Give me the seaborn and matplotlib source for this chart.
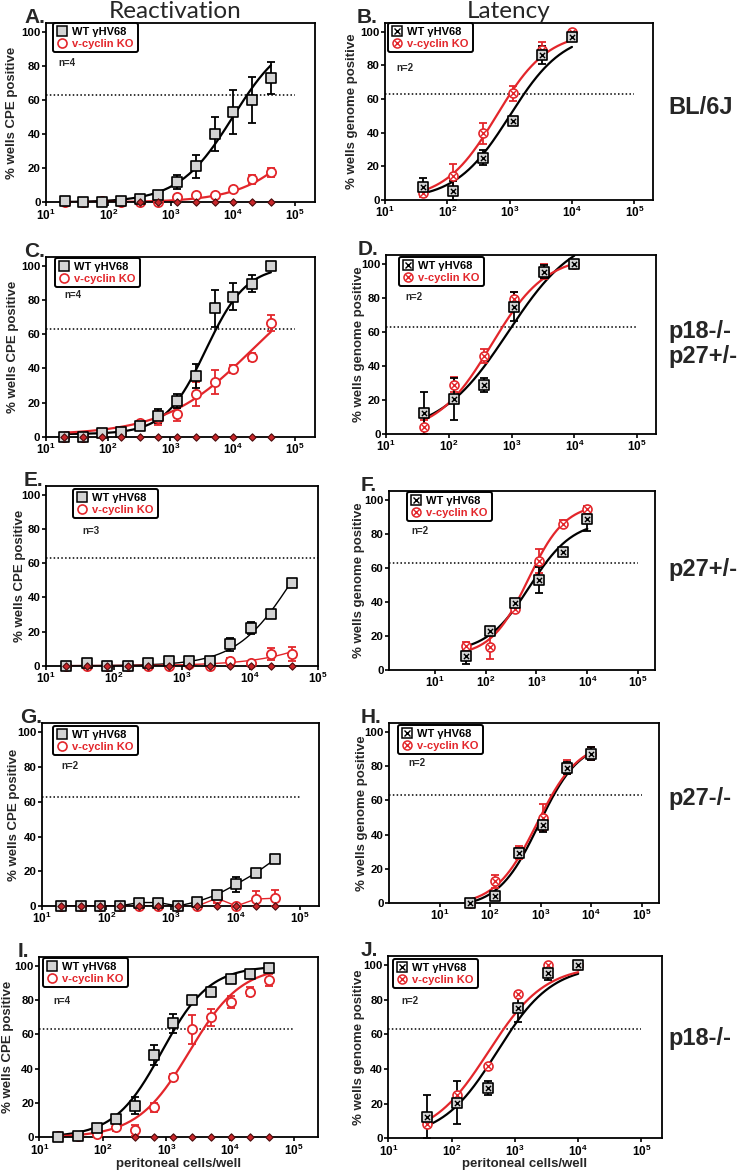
import numpy as np
import pandas as pd
import matplotlib
matplotlib.use("Agg")
import matplotlib.pyplot as plt
import seaborn as sns
from matplotlib.lines import Line2D
from matplotlib.legend_handler import HandlerTuple
from matplotlib.ticker import FixedLocator, NullLocator

# ---------------- data ----------------
react_cells = [20, 40, 80, 160, 320, 640, 1280, 2560, 5120, 10240, 20480, 40960]
lat_cells = [41, 123, 370, 1111, 3333, 10000]

# A. Reactivation BL/6J
a_wt = [1, 0, 0, 1, 2, 4, 12, 21, 40, 53, 60, 73]
a_wt_err = [1, 0.5, 0.5, 0.5, 1, 1.5, 4, 7, 10, 13, 13.5, 9.5]
a_ko = [0, 0, 1, 0, 0, 0, 3, 4, 4, 8, 13.5, 17.5]
a_ko_err = [0, 0, 0.5, 0, 0, 0, 1, 1, 1, 1, 2.5, 2.5]
# B. Latency BL/6J
b_wt = [8, 5.5, 25, 47, 86, 97]
b_wt_err = [5, 5.5, 4.5, 2, 5.5, 1.5]
b_ko = [4, 14.5, 39.5, 63.5, 89, 99.5]
b_ko_err = [2, 7, 6.5, 4.5, 5, 0.5]
# C. Reactivation p18-/- p27+/-
c_wt = [0, 0, 2, 3, 6, 12, 21, 35.5, 75, 82, 89.5, 100]
c_wt_err = [0, 0, 0.5, 1, 1, 4, 4, 7, 11, 8, 5, 0]
c_ko = [0, 0, 2, 3, 8, 11, 13, 25, 32, 39.5, 46.5, 66.5]
c_ko_err = [0, 0, 0.5, 0.5, 1, 4, 4, 7, 7, 2.5, 2.5, 4.5]
# D. Latency p18-/- p27+/-
d_wt = [12.5, 20.5, 29, 75, 95.5, 100]
d_wt_err = [12.5, 12.5, 4, 8.5, 4, 0]
d_ko = [4, 29, 46, 79.5, 95.5, 100]
d_ko_err = [4, 4.5, 4, 4, 4.5, 0]
# E. Reactivation p27+/-
e_wt = [0, 1.5, 0, 0, 1.5, 2.5, 3, 2.5, 12.5, 22, 30.5, 48.5]
e_wt_err = [0, 0.5, 0, 0, 0.5, 0.5, 0.5, 0.5, 4, 3.5, 2, 1]
e_ko = [0, 0, 0, 0, 0, 0, 1, 0, 2.5, 1.5, 7, 7]
e_ko_err = [0, 0, 0, 0, 0, 0, 0.5, 0, 2, 0.5, 3.5, 4]
# F. Latency p27+/-
f_wt = [8, 23, 39.5, 53, 69.5, 88.5]
f_wt_err = [4.5, 2.5, 1.5, 7.5, 1, 7]
f_ko = [14, 13.5, 36, 64, 86, 94.5]
f_ko_err = [2.5, 7, 2, 7, 2, 2]
# G. Reactivation p27-/-
g_wt = [0, 0, 0, 0, 2, 2, 0, 2.5, 6.5, 12.5, 19, 27]
g_wt_err = [0, 0, 0, 0, 0.5, 0.5, 0, 0.5, 1.5, 4.5, 1, 1]
g_ko = [0, 0, 0, 0, 0, 0, 0, 0, 4.5, 0, 4, 4.5]
g_ko_err = [0, 0, 0, 0, 0, 0, 0, 0, 3, 0, 4.5, 4.5]
# H. Latency p27-/-
h_wt = [0, 4, 29, 45.5, 79, 87.5]
h_wt_err = [0, 1, 3, 4, 3.5, 4]
h_ko = [0, 12.5, 29.5, 50, 79.5, 87.5]
h_ko_err = [0, 4, 4, 8, 4, 4]
# I. Reactivation p18-/-
i_wt = [0, 1, 5.5, 10.5, 18.5, 48, 66.5, 80, 85, 92.5, 95.5, 99]
i_wt_err = [0, 0.5, 1, 1.5, 5, 6, 5.5, 1, 1, 1.5, 1, 0.5]
i_ko = [1, 1, 2, 6, 4, 17.5, 35, 63, 70, 79, 85, 91.5]
i_ko_err = [0.5, 0.5, 0.5, 2.5, 3, 2.5, 2, 8.5, 5, 3.5, 2.5, 3.5]
# J. Latency p18-/-
j_wt = [12.5, 20.5, 29, 75, 95.5, 100]
j_wt_err = [12.5, 12.5, 4, 8, 4, 0]
j_ko = [8, 25, 41.5, 83.5, 100, 100]
j_ko_err = [0, 0, 0, 1, 0, 0]

# fitted dose-response curves (bottom, top, EC50, hill) as drawn in the figure
fit_a = [(0, 100, 1.0e4, 1.0), (0, 100, 2.8e5, 0.8)]
fit_b = [(0, 100, 1000, 1.0), (0, 100, 614, 1.05)]
fit_c = [(1.5, 100, 3700, 1.33), (1.0, 100, 2.0e4, 0.62)]
fit_d = [(0, 120, 883, 0.8), (0, 105, 477, 1.0)]
fit_e = [(0, 100, 4.2e4, 1.05), (0, 100, 1.07e6, 0.74)]
fit_f = [(10, 88, 733, 1.02), (8, 98, 683, 1.18)]
fit_h = [(-3, 95, 928, 1.08), (-2, 95, 850, 1.05)]
fit_i = [(0, 100, 848, 1.16), (0, 100, 2300, 1.06)]
fit_j = [(0, 100, 523, 1.0), (0, 100, 382, 0.97)]

# uninfected control wells (all 0%)
neg_a = react_cells[4:]
neg_c = react_cells
neg_e = react_cells
neg_g = react_cells
neg_i = react_cells[4:]

threshold = 63
n_labels = ["n=4", "n=2", "n=4", "n=2", "n=3", "n=2", "n=2", "n=2", "n=4", "n=2"]
strains = ["BL/6J", "p18-/-\np27+/-", "p27+/-", "p27-/-", "p18-/-"]

# ---------------- style ----------------
sns.set_theme(style="ticks")
plt.rcParams["font.family"] = ["Liberation Sans", "DejaVu Sans"]
plt.rcParams["mathtext.fontset"] = "custom"
plt.rcParams["mathtext.bf"] = "Liberation Sans:bold"
plt.rcParams["mathtext.rm"] = "Liberation Sans:bold"

RED = "#e3262b"
GREY = "#d4d4d4"
W, H = 739, 1173

fig = plt.figure(figsize=(W / 100, H / 100), dpi=100)


def px_axes(l, t, r, b):
    return fig.add_axes([l / W, 1 - b / H, (r - l) / W, (b - t) / H])


def fig_text(x, y, s, **kw):
    fig.text(x / W, 1 - y / H, s, **kw)


def sigmoid(x, p):
    bottom, top, ec50, hill = p
    return bottom + (top - bottom) / (1 + (ec50 / x) ** hill)


def draw_panel(ax, box, xlo, xhi, cells, wt, wt_err, ko, ko_err, latency,
               fits, neg, letter, n_txt, leg_px, n_px, ylab_x,
               thin=False, connect=False):
    l, t, r, b = box
    ax.set_xscale("log")
    lw = 1.0 if thin else 1.6
    # curves
    for vals, fit, col in [(wt, fits[0] if fits else None, "black"),
                           (ko, fits[1] if fits else None, RED)]:
        if connect:
            sns.lineplot(x=cells, y=vals, ax=ax, color=col, lw=lw,
                         estimator=None, zorder=2)
        else:
            grid = np.logspace(np.log10(cells[0]), np.log10(cells[-1]), 200)
            sns.lineplot(x=grid, y=sigmoid(grid, fit), ax=ax, color=col,
                         lw=lw, estimator=None, zorder=2)
    # error bars
    ax.errorbar(cells, ko, yerr=ko_err, fmt="none", ecolor=RED, elinewidth=1.3,
                capsize=3, capthick=1.3, zorder=3)
    ax.errorbar(cells, wt, yerr=wt_err, fmt="none", ecolor="black", elinewidth=1.3,
                capsize=3, capthick=1.3, zorder=3)
    # markers
    if latency:
        sns.scatterplot(x=cells, y=ko, ax=ax, marker="o", s=42, color="white",
                        edgecolor=RED, linewidth=1.2, zorder=4, clip_on=False)
        sns.scatterplot(x=cells, y=ko, ax=ax, marker="x", s=14, color=RED,
                        linewidth=1.0, zorder=4, clip_on=False)
        sns.scatterplot(x=cells, y=wt, ax=ax, marker="s", s=42, color=GREY,
                        edgecolor="black", linewidth=1.2, zorder=5, clip_on=False)
        sns.scatterplot(x=cells, y=wt, ax=ax, marker="x", s=14, color="black",
                        linewidth=1.0, zorder=5, clip_on=False)
    else:
        sns.scatterplot(x=cells, y=ko, ax=ax, marker="o", s=44, color="white",
                        edgecolor=RED, linewidth=1.3, zorder=4, clip_on=False)
        sns.scatterplot(x=cells, y=wt, ax=ax, marker="s", s=42, color=GREY,
                        edgecolor="black", linewidth=1.2, zorder=5, clip_on=False)
        sns.scatterplot(x=neg, y=[0] * len(neg), ax=ax, marker="D", s=14,
                        color="#c8262a", edgecolor="#4a0c0c", linewidth=0.8,
                        zorder=6, clip_on=False)
    # threshold line
    ax.hlines(threshold, 10 ** xlo, 1e5, colors="black", linestyles=(0, (1, 1.5)),
              lw=1.1, zorder=1)
    # axes
    ax.set_xlim(10 ** xlo, 10 ** xhi)
    ax.set_ylim(0, 105.3)
    ax.xaxis.set_major_locator(FixedLocator([10 ** k for k in range(1, 6)]))
    ax.xaxis.set_minor_locator(NullLocator())
    ax.set_xticklabels([r"$\mathbf{10^{%d}}$" % k for k in range(1, 6)], fontsize=8.5)
    ax.set_yticks([0, 20, 40, 60, 80, 100])
    ax.set_yticklabels(["0", "20", "40", "60", "80", "100"], fontsize=8.2,
                       fontweight="bold")
    ax.tick_params(direction="out", length=3, width=1.2, pad=0.8, colors="black")
    for sp in ax.spines.values():
        sp.set_linewidth(1.3)
        sp.set_color("black")
    ax.set_xlabel("")
    ax.set_ylabel("% wells genome positive" if latency else "% wells CPE positive",
                  fontsize=9.5, fontweight="bold", va="center")
    ax.yaxis.set_label_coords((ylab_x - l) / (r - l), 0.5)
    # legend
    if latency:
        h_wt = (Line2D([], [], marker="s", ls="none", ms=6.5, mfc="white", mec="black", mew=1.1),
                Line2D([], [], marker="x", ls="none", ms=4, mec="black", mew=1.0))
        h_ko = (Line2D([], [], marker="o", ls="none", ms=6.5, mfc="white", mec=RED, mew=1.1),
                Line2D([], [], marker="x", ls="none", ms=4, mec=RED, mew=1.0))
    else:
        h_wt = Line2D([], [], marker="s", ls="none", ms=6.5, mfc=GREY, mec="black", mew=1.1)
        h_ko = Line2D([], [], marker="o", ls="none", ms=6.5, mfc="white", mec=RED, mew=1.2)
    fx = (leg_px[0] - l) / (r - l)
    fy = 1 - (leg_px[1] - t) / (b - t)
    leg = ax.legend([h_wt, h_ko], ["WT \u03b3HV68", "v-cyclin KO"],
                    handler_map={tuple: HandlerTuple(ndivide=1)},
                    loc="upper left", bbox_to_anchor=(fx, fy), borderaxespad=0,
                    frameon=True, fancybox=True, framealpha=1, edgecolor="black",
                    prop={"weight": "bold", "size": 8}, labelcolor=["black", RED],
                    handlelength=0.9, handletextpad=0.5, borderpad=0.35,
                    labelspacing=0.15)
    leg.get_frame().set_linewidth(1.4)
    leg.set_zorder(10)
    ax.text((n_px[0] - l) / (r - l), 1 - (n_px[1] - t) / (b - t), n_txt,
            transform=ax.transAxes, fontsize=7, fontweight="bold", va="center")
    # panel letter
    off = 22 if not latency else 28
    fig_text(l - off, t, letter, fontsize=15, fontweight="bold", va="baseline")


panels = [
    # box (l, t, r, b) px, xlim exps, data, latency, fits, neg, letter, legend px, n px
    dict(box=(46, 22.7, 315, 202.3), xlo=1, xhi=5.32, cells=react_cells,
         wt=a_wt, wt_err=a_wt_err, ko=a_ko, ko_err=a_ko_err, latency=False,
         fits=fit_a, neg=neg_a, letter="A.", leg_px=(53, 23), n_px=(58, 63), ylab_x=12),
    dict(box=(385, 22.7, 653, 200), xlo=1, xhi=5.3, cells=lat_cells,
         wt=b_wt, wt_err=b_wt_err, ko=b_ko, ko_err=b_ko_err, latency=True,
         fits=fit_b, neg=None, letter="B.", leg_px=(388, 23), n_px=(396, 68), ylab_x=352),
    dict(box=(45.7, 256.7, 315, 436.7), xlo=1, xhi=5.32, cells=react_cells,
         wt=c_wt, wt_err=c_wt_err, ko=c_ko, ko_err=c_ko_err, latency=False,
         fits=fit_c, neg=neg_c, letter="C.", leg_px=(55, 258), n_px=(64, 295), ylab_x=13),
    dict(box=(386, 255, 656, 434), xlo=1, xhi=5.3, cells=lat_cells,
         wt=d_wt, wt_err=d_wt_err, ko=d_ko, ko_err=d_ko_err, latency=True,
         fits=fit_d, neg=None, letter="D.", leg_px=(399, 257), n_px=(405, 297), ylab_x=359),
    dict(box=(45.7, 486, 318, 665.7), xlo=1, xhi=5.0, cells=react_cells,
         wt=e_wt, wt_err=e_wt_err, ko=e_ko, ko_err=e_ko_err, latency=False,
         fits=fit_e, neg=neg_e, letter="E.", leg_px=(73, 489), n_px=(82, 531),
         ylab_x=20, thin=True),
    dict(box=(389, 490.7, 655, 670), xlo=0.1, xhi=5.33, cells=lat_cells,
         wt=f_wt, wt_err=f_wt_err, ko=f_ko, ko_err=f_ko_err, latency=True,
         fits=fit_f, neg=None, letter="F.", leg_px=(407, 492), n_px=(411, 531), ylab_x=359),
    dict(box=(41.7, 723.3, 319, 906), xlo=1, xhi=5.29, cells=react_cells,
         wt=g_wt, wt_err=g_wt_err, ko=g_ko, ko_err=g_ko_err, latency=False,
         fits=None, neg=neg_g, letter="G.", leg_px=(53, 726), n_px=(61, 766),
         ylab_x=14, thin=True, connect=True),
    dict(box=(389, 723.3, 658.7, 902.7), xlo=0, xhi=5.34, cells=lat_cells,
         wt=h_wt, wt_err=h_wt_err, ko=h_ko, ko_err=h_ko_err, latency=True,
         fits=fit_h, neg=None, letter="H.", leg_px=(398, 725), n_px=(408, 763), ylab_x=362),
    dict(box=(39.3, 956.7, 318.3, 1137.3), xlo=1, xhi=5.39, cells=react_cells,
         wt=i_wt, wt_err=i_wt_err, ko=i_ko, ko_err=i_ko_err, latency=False,
         fits=fit_i, neg=neg_i, letter="I.", leg_px=(43, 958), n_px=(53, 1001), ylab_x=8),
    dict(box=(388.3, 956, 661.7, 1138.3), xlo=1, xhi=5.32, cells=lat_cells,
         wt=j_wt, wt_err=j_wt_err, ko=j_ko, ko_err=j_ko_err, latency=True,
         fits=fit_j, neg=None, letter="J.", leg_px=(393, 959), n_px=(401, 1001), ylab_x=359),
]

axes = []
for p, n_txt in zip(panels, n_labels):
    ax = px_axes(*p["box"])
    draw_panel(ax, p["box"], p["xlo"], p["xhi"], p["cells"], p["wt"], p["wt_err"],
               p["ko"], p["ko_err"], p["latency"], p["fits"], p["neg"], p["letter"],
               n_txt, p["leg_px"], p["n_px"], p["ylab_x"], thin=p.get("thin", False),
               connect=p.get("connect", False))
    axes.append(ax)

for p, ax in zip(panels[-2:], axes[-2:]):
    l, t, r, b = p["box"]
    ax.set_xlabel("peritoneal cells/well", fontsize=9.5, fontweight="bold", va="center")
    ax.xaxis.set_label_coords(0.5, 1 - (1164 - t) / (b - t))

# column titles and strain labels
fig_text(175, 12, "Reactivation", fontsize=17.5, family="Lato", ha="center", va="center")
fig_text(509, 12, "Latency", fontsize=17.5, family="Lato", ha="center", va="center")
for y, s in zip([108, 344, 570, 798, 1038], strains):
    fig_text(668, y, s, fontsize=17, fontweight="bold", ha="left", va="center",
             linespacing=1.1)

fig.savefig("out.png", dpi=100)
